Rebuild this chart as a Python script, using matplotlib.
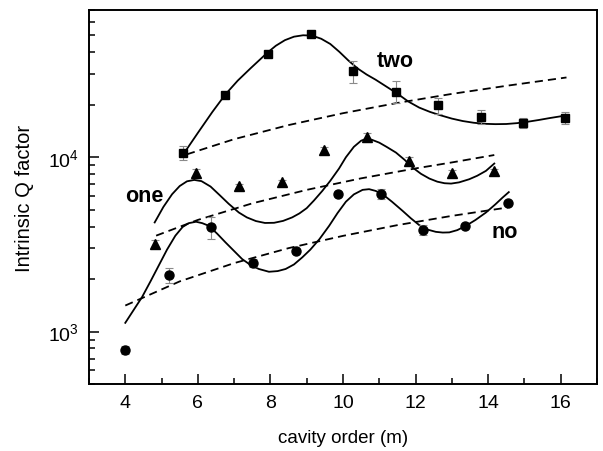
import numpy as np
import matplotlib
matplotlib.use("Agg")
import matplotlib.pyplot as plt
from matplotlib.ticker import LogLocator, NullFormatter, MultipleLocator

plt.rcParams['font.family'] = ['Liberation Sans', 'DejaVu Sans']
plt.rcParams['mathtext.fontset'] = 'custom'
plt.rcParams['mathtext.rm'] = 'Liberation Sans'
plt.rcParams['mathtext.it'] = 'Liberation Sans:italic'
plt.rcParams['mathtext.bf'] = 'Liberation Sans:bold'

# measured points (cavity order m, intrinsic Q)
two_m = [5.59, 6.76, 7.93, 9.11, 10.28, 11.45, 12.63, 13.79, 14.96, 16.13]
two_q = [10600, 22900, 38900, 51000, 31200, 23800, 19900, 17100, 15800, 16900]
two_err = [1000, 500, 800, 1000, 4500, 3450, 2100, 1500, 1100, 1350]

one_m = [4.81, 5.96, 7.14, 8.31, 9.48, 10.66, 11.83, 13.0, 14.17]
one_q = [3200, 8100, 6850, 7220, 11000, 13000, 9570, 8100, 8300]
one_err = [130, 440, 200, 200, 400, 800, 400, 300, 300]

no_m = [4.0, 5.20, 6.35, 7.52, 8.70, 9.87, 11.04, 12.21, 13.37, 14.54]
no_q = [785, 2120, 3970, 2470, 2910, 6170, 6170, 3820, 4050, 5430]
no_err = [40, 210, 590, 125, 80, 150, 420, 260, 100, 120]

# fitted curves (solid)
two_fit_m = [5.66, 6.0, 6.4, 6.76, 7.1, 7.45, 7.91, 8.15, 8.4, 8.65, 8.9, 9.15,
             9.4, 9.65, 9.9, 10.15, 10.4, 10.65, 10.9, 11.2, 11.5, 11.8, 12.1,
             12.4, 12.7, 13.0, 13.3, 13.6, 13.9, 14.2, 14.5, 14.8, 15.1, 15.4,
             15.7, 16.0, 16.16]
two_fit_q = [10860, 13800, 18200, 22960, 27540, 32360, 39720, 43650, 46990,
             49200, 50120, 49890, 47860, 44670, 40270, 35890, 32360, 29850,
             27860, 25410, 23170, 20890, 19280, 18200, 17380, 16670, 16140,
             15780, 15560, 15490, 15520, 15700, 16000, 16370, 16790, 17180, 17380]

one_fit_m = [4.81, 5.05, 5.29, 5.5, 5.7, 5.9, 6.1, 6.35, 6.6, 6.85, 7.13, 7.35,
             7.6, 7.85, 8.1, 8.35, 8.6, 8.8, 9.0, 9.2, 9.43, 9.65, 9.89, 10.08,
             10.3, 10.5, 10.65, 10.8, 11.0, 11.2, 11.46, 11.7, 11.92, 12.15,
             12.38, 12.6, 12.8, 12.98, 13.2, 13.48, 13.7, 13.94, 14.17]
one_fit_q = [4227, 5188, 6138, 6839, 7278, 7413, 7295, 6792, 6067, 5408, 4819,
             4519, 4305, 4198, 4207, 4315, 4519, 4764, 5105, 5649, 6412, 7328,
             8610, 10000, 11480, 12450, 12790, 12590, 12130, 11480, 10640, 9660,
             8730, 8035, 7550, 7244, 7096, 7063, 7178, 7482, 7834, 8356, 9204]

no_fit_m = [4.0, 4.25, 4.46, 4.7, 4.92, 5.15, 5.38, 5.58, 5.75, 5.95, 6.12, 6.30,
            6.53, 6.76, 7.0, 7.22, 7.45, 7.68, 7.96, 8.2, 8.42, 8.65, 8.88, 9.1,
            9.35, 9.62, 9.85, 10.08, 10.3, 10.54, 10.72, 10.9, 11.09, 11.35,
            11.64, 11.87, 12.10, 12.33, 12.56, 12.75, 12.93, 13.15, 13.39,
            13.65, 13.94, 14.2, 14.40, 14.57]
no_fit_q = [1122, 1349, 1574, 1950, 2388, 2951, 3548, 3981, 4188, 4266, 4188,
            4046, 3648, 3251, 2897, 2606, 2410, 2286, 2203, 2223, 2286, 2427,
            2667, 2951, 3388, 4046, 4786, 5559, 6124, 6501, 6561, 6412, 6138,
            5559, 4932, 4467, 4083, 3846, 3733, 3698, 3707, 3819, 4046, 4365,
            4819, 5370, 5875, 6310]

# dashed reference lines
two_dash_m = [5.70, 7.0, 8.5, 10.0, 11.5, 13.0, 14.5, 16.16]
two_dash_q = [10400, 12700, 15300, 17900, 20500, 23100, 25700, 28700]
one_dash_m = [4.85, 6.0, 7.5, 9.0, 10.5, 12.0, 13.0, 14.17]
one_dash_q = [3550, 4370, 5440, 6500, 7570, 8630, 9340, 10300]
no_dash_m = [4.0, 5.5, 7.0, 8.5, 10.0, 11.5, 13.0, 14.54]
no_dash_q = [1410, 1940, 2470, 3010, 3540, 4080, 4610, 5150]

fig = plt.figure(figsize=(6.03, 4.52), dpi=100)
ax = fig.add_axes([0.1476, 0.1482, 0.8424, 0.8275])

dash_style = dict(color='black', lw=1.3, dashes=(4.5, 2.8))
ax.plot(two_dash_m, two_dash_q, **dash_style)
ax.plot(one_dash_m, one_dash_q, **dash_style)
ax.plot(no_dash_m, no_dash_q, **dash_style)

curve_style = dict(color='black', lw=1.3, solid_joinstyle='round')
ax.plot(two_fit_m, two_fit_q, **curve_style)
ax.plot(one_fit_m, one_fit_q, **curve_style)
ax.plot(no_fit_m, no_fit_q, **curve_style)

eb = dict(color='black', ecolor='#8a8a8a', elinewidth=0.8, capsize=3,
          capthick=0.8, linestyle='none', zorder=3)
ax.errorbar(two_m, two_q, yerr=two_err, fmt='s', ms=6, **eb)
ax.errorbar(one_m, one_q, yerr=one_err, fmt='^', ms=7, **eb)
ax.errorbar(no_m, no_q, yerr=no_err, fmt='o', ms=6.5, **eb)

lbl = dict(fontsize=15.5, fontweight='bold')
ax.text(10.94, 33340, 'two', ha='left', va='baseline', **lbl)
ax.text(4.0, 5620, 'one', ha='left', va='baseline', **lbl)
ax.text(14.08, 3467, 'no', ha='left', va='baseline', **lbl)

ax.set_yscale('log')
ax.set_xlim(3, 17)
ax.set_ylim(500, 70000)
ax.xaxis.set_major_locator(MultipleLocator(2))
ax.xaxis.set_minor_locator(MultipleLocator(1))
ax.yaxis.set_major_locator(LogLocator(base=10))
ax.yaxis.set_minor_locator(LogLocator(base=10, subs=np.arange(2, 10)))
ax.yaxis.set_minor_formatter(NullFormatter())

ax.tick_params(which='both', direction='in', top=False, right=False,
               labelsize=14, width=1.1)
ax.tick_params(which='major', length=7, pad=7)
ax.tick_params(which='minor', length=4)
for s in ax.spines.values():
    s.set_linewidth(1.4)

ax.set_xlabel('cavity order (m)', fontsize=13.5, labelpad=13)
ax.set_ylabel('Intrinsic Q factor', fontsize=14.5, labelpad=10)

fig.savefig('out.png', dpi=100)
